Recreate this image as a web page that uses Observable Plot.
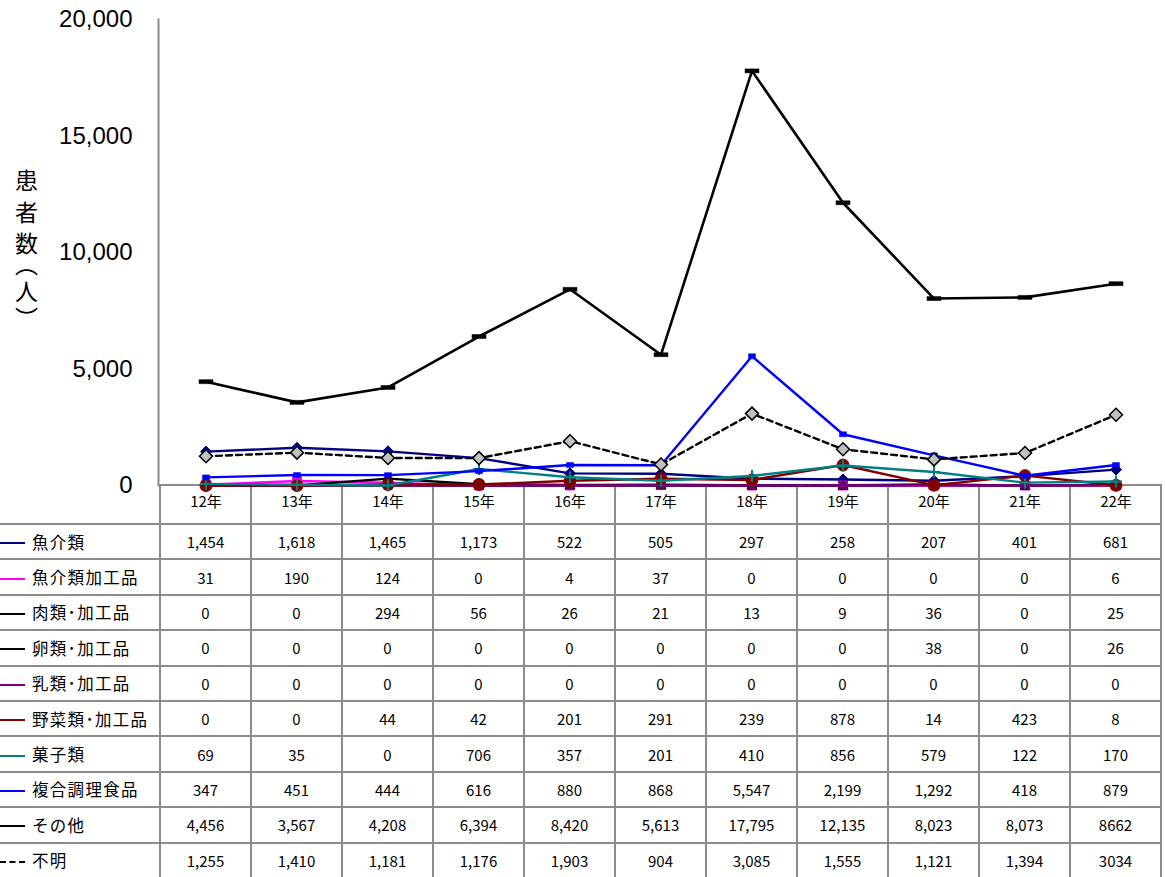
<!DOCTYPE html>
<html>
<head>
<meta charset="utf-8">
<script src="https://cdn.jsdelivr.net/npm/d3@7"></script>
<script src="https://cdn.jsdelivr.net/npm/@observablehq/plot@0.6"></script>
<style>
html, body { margin: 0; padding: 0; background: #fff; overflow: hidden; }
#wrap { position: relative; width: 1165px; height: 877px; font-family: "Noto Sans CJK JP", "Noto Sans", sans-serif; }
#wrap svg.chart { position: absolute; left: 0; top: 0; z-index: 2; }
#tbl { position: absolute; left: 0; top: 484px; z-index: 1; border-collapse: collapse; table-layout: fixed; font-size: 15px; color: #000; }
#tbl td { border: 2px solid #8c8c8c; padding: 0; text-align: center; vertical-align: middle; white-space: nowrap; overflow: hidden; }
#tbl td.lead { border-left: none; text-align: left; font-size: 16.5px; letter-spacing: 1.3px; }
#tbl tr.head td.lead { border-top: none; }
.sw { display: inline-block; width: 25px; height: 0; vertical-align: middle; margin-right: 7px; position: relative; top: -1px; }
</style>
</head>
<body>
<div id="wrap"></div>
<script>
// ---- data ----
const years = ["12年", "13年", "14年", "15年", "16年", "17年", "18年", "19年", "20年", "21年", "22年"];
const seriesNames = ["魚介類", "魚介類加工品", "肉類･加工品", "卵類･加工品", "乳類･加工品", "野菜類･加工品", "菓子類", "複合調理食品", "その他", "不明"];
const fish      = [1454, 1618, 1465, 1173, 522, 505, 297, 258, 207, 401, 681];
const fishProc  = [31, 190, 124, 0, 4, 37, 0, 0, 0, 0, 6];
const meat      = [0, 0, 294, 56, 26, 21, 13, 9, 36, 0, 25];
const egg       = [0, 0, 0, 0, 0, 0, 0, 0, 38, 0, 26];
const dairy     = [0, 0, 0, 0, 0, 0, 0, 0, 0, 0, 0];
const vegetable = [0, 0, 44, 42, 201, 291, 239, 878, 14, 423, 8];
const sweets    = [69, 35, 0, 706, 357, 201, 410, 856, 579, 122, 170];
const mixedFood = [347, 451, 444, 616, 880, 868, 5547, 2199, 1292, 418, 879];
const other     = [4456, 3567, 4208, 6394, 8420, 5613, 17795, 12135, 8023, 8073, 8662];
const unknown   = [1255, 1410, 1181, 1176, 1903, 904, 3085, 1555, 1121, 1394, 3034];
const yTicks = [0, 5000, 10000, 15000, 20000];
const yTitleMain = "患\n者\n数";
const yTitleUnit = "︵\n人\n︶";
// cells printed without thousands separator in the source table
const plainCells = [["その他", "22年"], ["不明", "22年"]];

const seriesValues = [fish, fishProc, meat, egg, dairy, vegetable, sweets, mixedFood, other, unknown];

// ---- marker symbols ----
const rectSym = (w, h) => ({draw(c) { c.rect(-w / 2, -h / 2, w, h); }});
const diamondSym = (h) => ({draw(c) { c.moveTo(0, -h); c.lineTo(h, 0); c.lineTo(0, h); c.lineTo(-h, 0); c.closePath(); }});
const triSym = (h) => ({draw(c) { c.moveTo(0, -h); c.lineTo(h, h * 0.8); c.lineTo(-h, h * 0.8); c.closePath(); }});
const xSym = (h) => ({draw(c) { c.moveTo(-h, -h); c.lineTo(h, h); c.moveTo(h, -h); c.lineTo(-h, h); }});
const astSym = (h) => ({draw(c) { c.moveTo(-h, -h); c.lineTo(h, h); c.moveTo(h, -h); c.lineTo(-h, h); c.moveTo(0, -h * 1.2); c.lineTo(0, h * 1.2); }});
const plusSym = (h) => ({draw(c) { c.moveTo(-h, 0); c.lineTo(h, 0); c.moveTo(0, -h); c.lineTo(0, h); }});

const styles = [
  {color: "#000080", width: 2.4, symbol: diamondSym(5.5), fill: "#000080", mstroke: "#000080", msw: 1},
  {color: "#ff00ff", width: 2.4, symbol: rectSym(9, 9), fill: "#ff00ff", mstroke: "#ff00ff", msw: 1},
  {color: "#000000", width: 2.4, symbol: triSym(5), fill: "#000000", mstroke: "#000000", msw: 1},
  {color: "#000000", width: 2.4, symbol: xSym(4), fill: "none", mstroke: "#000000", msw: 1.5},
  {color: "#800080", width: 2.4, symbol: astSym(4), fill: "none", mstroke: "#800080", msw: 1.5},
  {color: "#800000", width: 2.4, symbol: "circle", r: 6, fill: "#800000", mstroke: "#800000", msw: 1},
  {color: "#008080", width: 2.4, symbol: plusSym(6), fill: "none", mstroke: "#008080", msw: 2},
  {color: "#0000ff", width: 2.4, symbol: rectSym(7, 5), fill: "#0000ff", mstroke: "#0000ff", msw: 0.5},
  {color: "#000000", width: 2.6, symbol: rectSym(14, 4), fill: "#000000", mstroke: "#000000", msw: 0.5},
  {color: "#000000", width: 2.4, dash: "6,4", symbol: diamondSym(6.5), fill: "#c0c0c0", mstroke: "#000000", msw: 1.5}
];

// long format rows
const rows = [];
seriesNames.forEach((name, si) => seriesValues[si].forEach((v, i) => rows.push({series: name, year: years[i], value: v})));

const seriesMarks = [];
seriesNames.forEach((name, si) => {
  const st = styles[si];
  const d = rows.filter(r => r.series === name);
  seriesMarks.push(Plot.line(d, {x: "year", y: "value", stroke: st.color, strokeWidth: st.width, strokeDasharray: st.dash, strokeLinejoin: "round"}));
  seriesMarks.push(Plot.dot(d, {x: "year", y: "value", symbol: st.symbol, r: st.r || 5, fill: st.fill, stroke: st.mstroke, strokeWidth: st.msw}));
});

const FONT = '"Noto Sans CJK JP", "Noto Sans", sans-serif';
const chart = Plot.plot({
  width: 1165,
  height: 524,
  marginLeft: 158,
  marginRight: 2,
  marginTop: 19,
  marginBottom: 39,
  style: {fontFamily: FONT, background: "transparent", color: "#000"},
  x: {type: "band", domain: years, padding: 0, axis: null},
  y: {domain: [0, 20000], axis: null},
  marks: [
    Plot.frame({anchor: "left", stroke: "#8c8c8c", strokeWidth: 2}),
    Plot.axisY({ticks: yTicks, tickFormat: d3.format(","), tickSize: 0, tickPadding: 26, fontSize: 24, label: null, fontFamily: '"Liberation Sans", Arial, sans-serif'}),
    Plot.axisX({tickSize: 0, tickPadding: 11, fontSize: 15, label: null}),
    Plot.text([yTitleMain], {text: d => d, frameAnchor: "left", dx: -132, dy: -42, fontSize: 23, lineHeight: 1.37, textAnchor: "middle"}),
    Plot.text([yTitleUnit], {text: d => d, frameAnchor: "left", dx: -132, dy: 39, fontSize: 23, lineHeight: 1.17, textAnchor: "middle"}),
    ...seriesMarks
  ]
});
chart.classList.add("chart");
const wrap = document.getElementById("wrap");
wrap.appendChild(chart);

// ---- data table, columns aligned to the x scale ----
const xs = chart.scale("x");
const bw = xs.bandwidth;
const firstW = xs.apply(years[0]);
const fmt = d3.format(",");
const isPlain = (s, y) => plainCells.some(([a, b]) => a === s && b === y);

const table = document.createElement("table");
table.id = "tbl";
table.style.width = (firstW + bw * years.length) + "px";
const colgroup = document.createElement("colgroup");
const c0 = document.createElement("col"); c0.style.width = firstW + "px"; colgroup.appendChild(c0);
years.forEach(() => { const c = document.createElement("col"); c.style.width = bw + "px"; colgroup.appendChild(c); });
table.appendChild(colgroup);

const head = document.createElement("tr");
head.className = "head";
head.style.height = "39px";
const h0 = document.createElement("td"); h0.className = "lead"; head.appendChild(h0);
years.forEach(() => head.appendChild(document.createElement("td")));
table.appendChild(head);

seriesNames.forEach((name, si) => {
  const st = styles[si];
  const tr = document.createElement("tr");
  tr.style.height = "35.4px";
  const lead = document.createElement("td");
  lead.className = "lead";
  const sw = document.createElement("span");
  sw.className = "sw";
  sw.style.borderTop = `2px ${st.dash ? "dashed" : "solid"} ${st.color}`;
  lead.appendChild(sw);
  lead.appendChild(document.createTextNode(name));
  tr.appendChild(lead);
  seriesValues[si].forEach((v, i) => {
    const td = document.createElement("td");
    td.textContent = isPlain(name, years[i]) ? String(v) : fmt(v);
    tr.appendChild(td);
  });
  table.appendChild(tr);
});
wrap.appendChild(table);
</script>
</body>
</html>
